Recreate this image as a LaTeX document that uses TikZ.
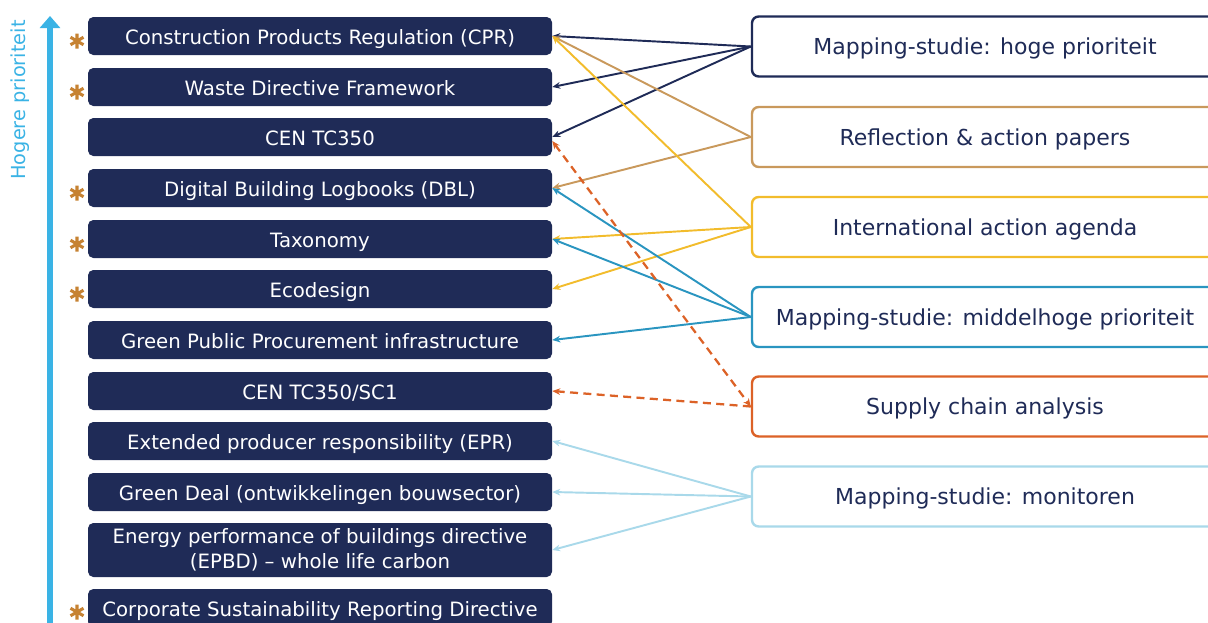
\documentclass[tikz,border=0pt]{standalone}
\usepackage{fontspec}
\setmainfont{DejaVu Sans}
\usetikzlibrary{arrows.meta}
\definecolor{navy}{HTML}{1F2B57}
\definecolor{tan}{HTML}{C9995C}
\definecolor{gold}{HTML}{F2BC2C}
\definecolor{midblue}{HTML}{2A95C0}
\definecolor{orng}{HTML}{DC6227}
\definecolor{ltblue}{HTML}{A9D9EA}
\definecolor{axisblue}{HTML}{3AB3E5}
\definecolor{astcol}{HTML}{C68232}
\begin{document}
\begin{tikzpicture}[x=0.75pt,y=-0.75pt,
  lbase/.style={fill=navy, text=white, rounded corners=4pt, minimum width=348pt,
    minimum height=28.5pt, inner sep=0pt, align=center,
    font=\fontsize{14.8}{18.8}\selectfont},
  lbox/.style={lbase, text height=14pt, text depth=1.9pt},
  rbox/.style={draw=#1, line width=1.8pt, fill=white, rounded corners=5pt,
    minimum width=349.5pt, minimum height=45pt, inner sep=0pt, text=navy,
    text height=15pt, text depth=2.5pt,
    font=\fontsize{16.5}{20}\selectfont},
  conn/.style={draw=#1, line width=1.45pt, -{Stealth[length=6pt,width=5pt]}},
  dconn/.style={draw=orng, line width=1.7pt, dash pattern=on 6pt off 4pt},
  astmark/.pic={\draw[astcol, line width=2.3pt] (90:7.5) -- (270:7.5) (30:7.5) -- (210:7.5) (150:7.5) -- (330:7.5);},
]
\useasboundingbox (0,0) rectangle (1208,622);
\clip (0,0) rectangle (1208,622);

% priority axis
\coordinate (axB) at (50,650);
\coordinate (axT) at (50,16);
\draw[axisblue, line width=5pt, -{Triangle[width=15pt,length=9pt]}] (axB) -- (axT);
\node[rotate=90, text=axisblue, font=\fontsize{14.5}{17}\selectfont] (axlab) at (20,100) {Hogere prioriteit};

% left boxes
\node[lbox] (L1) at (320,36) {Construction Products Regulation (CPR)};
\node[lbox] (L2) at (320,87) {Waste Directive Framework};
\node[lbox] (L3) at (320,137) {CEN TC350};
\node[lbox] (L4) at (320,188) {Digital Building Logbooks (DBL)};
\node[lbox] (L5) at (320,239) {Taxonomy};
\node[lbox] (L6) at (320,289) {Ecodesign};
\node[lbox] (L7) at (320,340) {Green Public Procurement infrastructure};
\node[lbox] (L8) at (320,391) {CEN TC350/SC1};
\node[lbox] (L9) at (320,441) {Extended producer responsibility (EPR)};
\node[lbox] (L10) at (320,492) {Green Deal (ontwikkelingen bouwsector)};
\node[lbase, minimum height=40.5pt] (L11) at (320,550) {Energy performance of buildings directive\\(EPBD) -- whole life carbon};
\node[lbox] (L12) at (320,608) {Corporate Sustainability Reporting Directive};

% asterisks
\pic at (77,41) {astmark};
\pic at (77,92) {astmark};
\pic at (77,193) {astmark};
\pic at (77,244) {astmark};
\pic at (77,294) {astmark};
\pic at (77,612) {astmark};

% right boxes
\node[rbox=navy] (R1) at (985,46.5) {Mapping-studie: hoge prioriteit};
\node[rbox=tan] (R2) at (985,137) {Reflection \& action papers};
\node[rbox=gold] (R3) at (985,227) {International action agenda};
\node[rbox=midblue] (R4) at (985,317) {Mapping-studie: middelhoge prioriteit};
\node[rbox=orng] (R5) at (985,406.5) {Supply chain analysis};
\node[rbox=ltblue] (R6) at (985,496.5) {Mapping-studie: monitoren};

% connectors
\draw[conn=navy] (R1.west) -- (L1.east);
\draw[conn=navy] (R1.west) -- (L2.east);
\draw[conn=navy] (R1.west) -- (L3.east);
\draw[conn=tan] (R2.west) -- (L1.east);
\draw[conn=tan] (R2.west) -- (L4.east);
\draw[conn=gold] (R3.west) -- (L1.east);
\draw[conn=gold] (R3.west) -- (L5.east);
\draw[conn=gold] (R3.west) -- (L6.east);
\draw[conn=midblue] (R4.west) -- (L4.east);
\draw[conn=midblue] (R4.west) -- (L5.east);
\draw[conn=midblue] (R4.west) -- (L7.east);
\draw[dconn, {Stealth[length=6pt,width=5pt]}-{Stealth[length=6pt,width=5pt]}] ([yshift=-3pt]L3.east) -- (R5.west);
\draw[dconn, -{Stealth[length=6pt,width=5pt]}] (R5.west) -- (L8.east);
\draw[conn=ltblue] (R6.west) -- (L9.east);
\draw[conn=ltblue] (R6.west) -- (L10.east);
\draw[conn=ltblue] (R6.west) -- (L11.east);
\end{tikzpicture}
\end{document}
